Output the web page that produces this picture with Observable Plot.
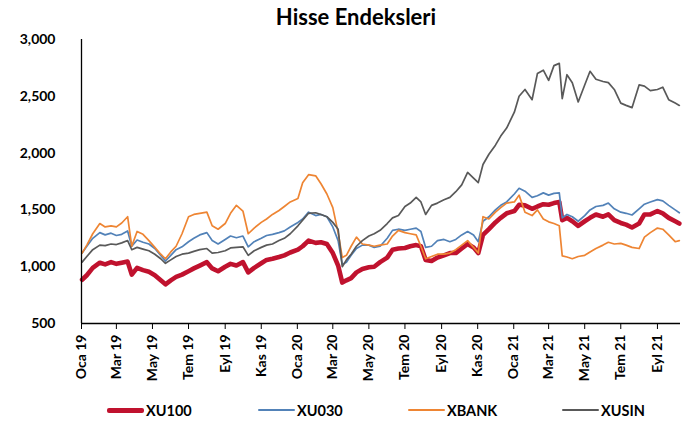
<!DOCTYPE html>
<html><head><meta charset="utf-8">
<script src="https://cdn.jsdelivr.net/npm/d3@7"></script>
<script src="https://cdn.jsdelivr.net/npm/@observablehq/plot@0.6"></script>
<style>
body{margin:0;background:#fff;font-family:Lato,"Open Sans",sans-serif;}
#wrap{position:relative;width:691px;height:423px;overflow:hidden;background:#fff}
#title{position:absolute;left:0;width:712px;top:3px;text-align:center;font-weight:700;font-size:22px;color:#000;line-height:28px}
#chart{position:absolute;left:0;top:30px}
.leg{position:absolute;top:400px;height:20px;display:flex;align-items:center;font-weight:700;font-size:14.5px;color:#000}
.leg .sw{display:inline-block;width:37px;margin-right:2px;border-radius:2px}
</style></head><body>
<div id="wrap"><div id="title">Hisse Endeksleri</div><div id="chart"></div><div id="legend"></div></div>
<script>
const dates = [
"2019-01-02","2019-01-10","2019-01-20","2019-02-01","2019-02-10","2019-02-20","2019-03-01","2019-03-10","2019-03-20","2019-03-27",
"2019-04-05","2019-04-15","2019-04-25","2019-05-05","2019-05-15","2019-05-23","2019-06-01","2019-06-10","2019-06-20","2019-07-01",
"2019-07-10","2019-07-20","2019-08-01","2019-08-10","2019-08-20","2019-09-01","2019-09-10","2019-09-20","2019-10-01","2019-10-10",
"2019-10-20","2019-11-01","2019-11-10","2019-11-20","2019-12-01","2019-12-10","2019-12-20",
"2020-01-02","2020-01-10","2020-01-20","2020-02-01","2020-02-10","2020-02-20","2020-03-01","2020-03-10","2020-03-17","2020-03-24",
"2020-04-01","2020-04-10","2020-04-20","2020-05-01","2020-05-10","2020-05-20","2020-06-01","2020-06-10","2020-06-20","2020-07-01",
"2020-07-10","2020-07-20","2020-07-28","2020-08-05","2020-08-15","2020-08-25","2020-09-05","2020-09-15","2020-09-25","2020-10-05",
"2020-10-15","2020-10-25","2020-11-02","2020-11-10","2020-11-20","2020-12-01","2020-12-10","2020-12-20",
"2021-01-02","2021-01-10","2021-01-20","2021-02-01","2021-02-10","2021-02-20","2021-03-01","2021-03-10","2021-03-19","2021-03-24",
"2021-04-01","2021-04-10","2021-04-20","2021-05-01","2021-05-10","2021-05-20","2021-06-01","2021-06-10","2021-06-20","2021-07-01",
"2021-07-10","2021-07-20","2021-08-01","2021-08-10","2021-08-20","2021-09-01","2021-09-10","2021-09-20","2021-10-01","2021-10-08"
];
const xu100 = [
885,925,990,1035,1020,1040,1025,1035,1045,930, 990,970,955,925,880,845,880,910,930,960,
985,1010,1040,985,960,1000,1025,1010,1040,950, 990,1030,1060,1070,1085,1100,1125,
1150,1180,1230,1210,1215,1200,1120,1010,860,880, 900,950,980,995,1000,1040,1080,1150,1160,1165,
1180,1190,1180,1060,1050,1080,1100,1120,1120,1160, 1200,1170,1120,1280,1330,1390,1430,1470,
1490,1545,1540,1510,1530,1550,1545,1560,1570,1410, 1430,1400,1360,1400,1430,1460,1440,1460,1410,1385,
1370,1345,1380,1460,1460,1490,1470,1430,1400,1380
];
const xu030 = [
1120,1180,1250,1300,1280,1295,1275,1285,1315,1180, 1235,1215,1200,1160,1100,1050,1100,1150,1175,1220,
1250,1280,1300,1230,1200,1240,1270,1255,1270,1175, 1220,1250,1275,1285,1300,1315,1350,
1390,1420,1480,1450,1460,1440,1350,1230,1020,1040, 1100,1160,1190,1190,1170,1180,1250,1320,1330,1320,
1330,1340,1310,1170,1180,1230,1240,1220,1240,1280, 1310,1280,1220,1400,1440,1500,1540,1570,
1640,1690,1665,1610,1625,1650,1630,1645,1650,1430, 1460,1440,1400,1450,1500,1530,1540,1560,1510,1480,
1470,1455,1510,1550,1570,1590,1580,1540,1500,1475
];
const xbank = [
1120,1190,1290,1380,1350,1360,1350,1385,1440,1180, 1310,1285,1230,1170,1110,1070,1130,1180,1290,1440,
1460,1470,1480,1360,1330,1380,1470,1540,1490,1290, 1340,1390,1420,1460,1495,1530,1570,
1600,1740,1810,1800,1730,1640,1520,1300,1080,1100, 1180,1260,1200,1190,1180,1190,1200,1270,1320,1300,
1290,1280,1180,1070,1090,1110,1110,1120,1150,1190, 1230,1170,1120,1440,1420,1480,1520,1560,
1570,1630,1480,1450,1500,1420,1395,1380,1360,1095, 1085,1070,1090,1100,1130,1160,1190,1215,1200,1205,
1190,1170,1160,1260,1300,1340,1330,1280,1220,1230
];
const xusin = [
1040,1090,1150,1190,1185,1200,1195,1210,1230,1150, 1170,1155,1140,1110,1070,1030,1060,1090,1110,1120,
1135,1150,1160,1120,1125,1140,1165,1170,1175,1100, 1140,1170,1190,1200,1230,1250,1290,
1360,1410,1470,1475,1460,1440,1390,1330,1000,1060, 1110,1180,1230,1270,1290,1320,1380,1430,1450,1530,
1560,1610,1570,1460,1540,1560,1590,1610,1660,1720, 1830,1780,1740,1900,1990,2070,2150,2220,
2360,2500,2560,2470,2700,2730,2640,2770,2790,2480, 2690,2620,2450,2600,2720,2650,2630,2620,2560,2440,
2420,2400,2600,2590,2550,2560,2580,2470,2440,2420
];
const seriesNames = ["XU100","XU030","XBANK","XUSIN"];
const yTicks = [500,1000,1500,2000,2500,3000];
const xTicks = ["2019-01-01","2019-03-01","2019-05-01","2019-07-01","2019-09-01","2019-11-01",
"2020-01-01","2020-03-01","2020-05-01","2020-07-01","2020-09-01","2020-11-01",
"2021-01-01","2021-03-01","2021-05-01","2021-07-01","2021-09-01"];
const monthsTR = ["Oca","Şub","Mar","Nis","May","Haz","Tem","Ağu","Eyl","Eki","Kas","Ara"];

const colors = ["#C0122E","#5282B8","#EE8533","#595959"];
const widths = [4.6,1.7,1.7,1.7];
const valuesList = [xu100, xu030, xbank, xusin];
const parse = d3.utcParse("%Y-%m-%d");
const x0 = parse("2019-01-01"), x1 = parse("2021-10-10");

const lineMarks = valuesList.map((vals, k) =>
  Plot.line(dates.map((d, i) => ({date: parse(d), value: vals[i]})),
    {x: "date", y: "value", stroke: colors[k], strokeWidth: widths[k], strokeLinejoin: "round"}));

const chart = Plot.plot({
  width: 691, height: 360,
  marginLeft: 81, marginRight: 11, marginTop: 9, marginBottom: 67,
  style: {fontFamily: "Lato, 'Open Sans', sans-serif", fontSize: "14px", fontWeight: "bold", color: "#000", background: "white", overflow: "visible"},
  x: {type: "utc", domain: [x0, x1]},
  y: {domain: [500, 3000]},
  marks: [
    Plot.axisY({ticks: yTicks, tickSize: 0, tickPadding: 26, tickFormat: d3.format(","), label: null, fontSize: 14, fontWeight: "bold", fill: "#000"}),
    Plot.axisX({ticks: xTicks.map(parse), tickSize: 6, tickPadding: 5, tickRotate: -90, label: null, fontSize: 14, fontWeight: "bold", fill: "#000", stroke: "#000",
      tickFormat: d => monthsTR[d.getUTCMonth()] + " " + String(d.getUTCFullYear()).slice(2)}),
    ...lineMarks,
    Plot.ruleX([x0], {stroke: "#000", strokeWidth: 1.3}),
    Plot.ruleY([500], {stroke: "#000", strokeWidth: 1.3})
  ]
});
document.getElementById("chart").appendChild(chart);

const legLefts = [107, 258, 408, 562];
const legend = document.getElementById("legend");
seriesNames.forEach((n, k) => {
  const div = document.createElement("div");
  div.className = "leg";
  div.style.left = legLefts[k] + "px";
  const sw = document.createElement("span");
  sw.className = "sw";
  sw.style.height = (k === 0 ? 5 : 2) + "px";
  sw.style.background = colors[k];
  div.appendChild(sw);
  div.appendChild(document.createTextNode(n));
  legend.appendChild(div);
});
</script>
</body></html>
